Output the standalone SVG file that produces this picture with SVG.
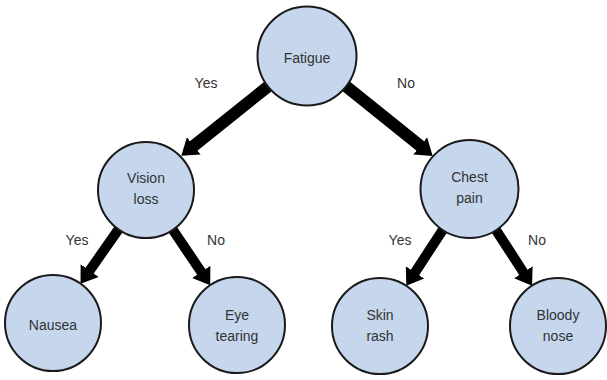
<svg xmlns="http://www.w3.org/2000/svg" width="607" height="380" viewBox="0 0 607 380">
<style>
.node circle{fill:#c5d6ed;stroke:#1a1a1a;stroke-width:2}
text{font-family:"Liberation Sans",Arial,sans-serif;font-size:14px;fill:#333;text-anchor:middle;dominant-baseline:central}
.edge{stroke:#000;stroke-width:10;fill:none;marker-end:url(#ah)}
.edge.top{stroke-width:12}
</style>
<defs>
<marker id="ah" markerUnits="userSpaceOnUse" markerWidth="18" markerHeight="24" viewBox="0 -12 18 24" refX="1" refY="0" orient="auto">
<path d="M0,-11 L16,0 L0,11 z" fill="#000"/>
</marker>
</defs>
<rect width="607" height="380" fill="#fff"/>
<g id="connectors">
<line class="edge top" x1="268.6" y1="86" x2="193" y2="146.5"/>
<line class="edge top" x1="345.7" y1="86" x2="421" y2="146.5"/>
<line class="edge" x1="118.5" y1="229.3" x2="89.1" y2="271.4"/>
<line class="edge" x1="172.8" y1="229.8" x2="201.8" y2="272.8"/>
<line class="edge" x1="442.7" y1="230" x2="414.5" y2="273.2"/>
<line class="edge" x1="496.1" y1="230.2" x2="523.9" y2="273.1"/>
</g>
<g id="edge-labels">
<text x="206" y="83">Yes</text>
<text x="406" y="83">No</text>
<text x="77" y="240">Yes</text>
<text x="216" y="240">No</text>
<text x="400" y="240">Yes</text>
<text x="537" y="240">No</text>
</g>
<g id="fatigue" class="node"><circle cx="307" cy="56" r="49.5"/><text x="307" y="58">Fatigue</text></g>
<g id="vision-loss" class="node"><circle cx="146" cy="190" r="48"/><text x="146" y="178">Vision</text><text x="146" y="199">loss</text></g>
<g id="chest-pain" class="node"><circle cx="469.5" cy="189" r="49"/><text x="469.5" y="177">Chest</text><text x="469.5" y="198">pain</text></g>
<g id="nausea" class="node"><circle cx="53" cy="323" r="48"/><text x="53" y="325">Nausea</text></g>
<g id="eye-tearing" class="node"><circle cx="237" cy="325" r="48"/><text x="237" y="315">Eye</text><text x="237" y="336">tearing</text></g>
<g id="skin-rash" class="node"><circle cx="380" cy="326" r="48"/><text x="380" y="315">Skin</text><text x="380" y="336">rash</text></g>
<g id="bloody-nose" class="node"><circle cx="558" cy="326" r="48"/><text x="558" y="315">Bloody</text><text x="558" y="336">nose</text></g>
</svg>
